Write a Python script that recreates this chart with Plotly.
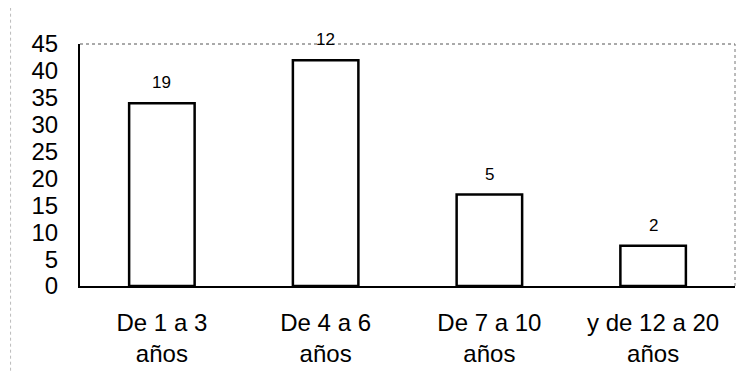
import plotly.graph_objects as go

categories = ["De 1 a 3<br>años", "De 4 a 6<br>años", "De 7 a 10<br>años", "y de 12 a 20<br>años"]
values = [34, 42, 17, 7.5]
counts = ["19", "12", "5", "2"]
yticks = [0, 5, 10, 15, 20, 25, 30, 35, 40, 45]

font = "Liberation Sans, Arial, Helvetica, sans-serif"

fig = go.Figure()
fig.add_trace(go.Bar(
    x=categories, y=values, width=0.4,
    marker=dict(color="white", line=dict(color="black", width=2.5)),
    showlegend=False, hoverinfo="skip",
))

for c, v, t in zip(categories, values, counts):
    fig.add_annotation(x=c, y=v, text=t, showarrow=False, yanchor="bottom", yshift=9,
                       font=dict(family=font, size=17, color="black"))

# dashed frame top/right
fig.add_shape(type="line", xref="paper", yref="paper", x0=0, x1=1, y0=1, y1=1,
              line=dict(color="#555", width=1, dash="dot"))
fig.add_shape(type="line", xref="paper", yref="paper", x0=1, x1=1, y0=0, y1=1,
              line=dict(color="#777", width=1, dash="dot"))
# faint scan edge on the far left
fig.add_shape(type="line", xref="paper", yref="paper", x0=-0.106, x1=-0.106, y0=-0.35, y1=1.15,
              line=dict(color="#bbb", width=1, dash="dot"))

fig.update_layout(
    width=736, height=377,
    margin=dict(l=72, r=9, t=36, b=99),
    paper_bgcolor="white", plot_bgcolor="white",
    font=dict(family=font, color="black"),
    xaxis=dict(
        range=[-0.5, 3.5], showline=True, linecolor="black", linewidth=2,
        ticks="outside", ticklen=14, tickcolor="rgba(0,0,0,0)",
        tickfont=dict(size=24, family=font, color="black"), showgrid=False, zeroline=False,
    ),
    yaxis=dict(
        range=[0, 45], tickvals=yticks, ticktext=[str(v) for v in yticks],
        showline=True, linecolor="black", linewidth=2,
        ticks="outside", ticklen=15, tickcolor="rgba(0,0,0,0)",
        tickfont=dict(size=24, family=font, color="black"), showgrid=False, zeroline=False,
    ),
)

fig.write_html("out.html")
